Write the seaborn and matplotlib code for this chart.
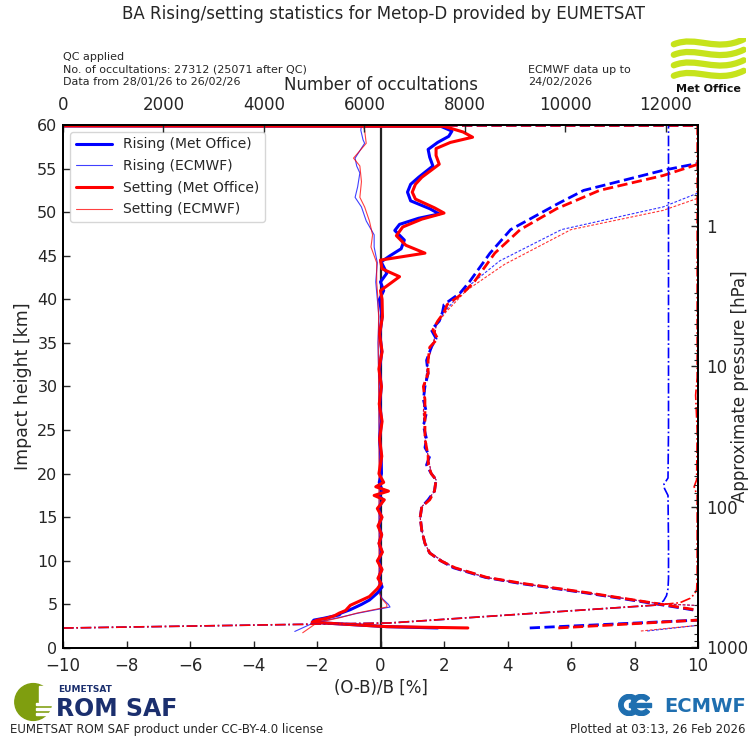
import numpy as np
import pandas as pd
import matplotlib
matplotlib.use("Agg")
import matplotlib.pyplot as plt
import seaborn as sns
from matplotlib import ticker, patches
from matplotlib.path import Path

# ---------------- data ----------------
# Mean (O-B)/B [%] - Met Office, rising
rise_mo_mean_z = [2.3, 2.45, 2.95, 3.2, 3.4, 3.8, 4.0, 4.4, 5.0, 5.5, 6.3, 7.0, 8.0, 9.0, 10.0,
                  11.0, 12.0, 13.0, 14.0, 15.0, 16.0, 17.0, 17.5, 18.0, 19.0, 20.0, 22.0, 24.0,
                  26.0, 28.0, 30.0, 32.0, 34.0, 36.0, 38.0, 40.0, 41.0, 42.0, 43.0, 44.3, 45.0,
                  45.8, 46.8, 47.9, 48.6, 49.3, 49.8, 50.4, 51.3, 52.3, 53.2, 54.0, 55.3, 56.3,
                  57.2, 58.0, 58.7, 59.3, 59.85, 60.0]
rise_mo_mean = [1.8, 0.2, -2.15, -2.1, -1.8, -1.3, -1.25, -0.95, -0.6, -0.35, -0.1, 0.05, -0.05,
                0.03, -0.06, 0.04, -0.04, 0.03, -0.05, 0.03, -0.06, 0.08, -0.05, 0.06, -0.04,
                0.03, 0.02, -0.03, 0.03, -0.02, 0.02, -0.03, 0.04, -0.02, 0.05, -0.03, 0.1, 0.0,
                0.2, 0.02, 0.3, 0.65, 0.75, 0.45, 0.6, 1.2, 1.85, 1.55, 0.95, 0.85, 0.95, 1.2,
                1.65, 1.55, 1.5, 1.8, 2.15, 2.25, 1.9, -40.0]
# Mean (O-B)/B [%] - Met Office, setting
set_mo_mean_z = [2.3, 2.45, 2.95, 3.2, 3.4, 3.7, 4.0, 4.3, 4.9, 5.9, 6.8, 7.4, 8.0, 9.0, 10.0,
                 11.0, 12.0, 13.0, 14.0, 15.0, 16.0, 17.0, 17.5, 18.0, 18.5, 19.0, 20.0, 22.0,
                 24.0, 26.0, 28.0, 30.0, 32.0, 34.0, 36.0, 38.0, 40.0, 41.0, 42.6, 43.5, 44.5,
                 45.3, 46.2, 47.3, 48.3, 49.2, 49.9, 50.5, 51.5, 52.3, 53.2, 54.0, 55.5, 56.5,
                 57.3, 58.0, 58.6, 59.2, 59.85, 60.0]
set_mo_mean = [2.75, 0.2, -2.15, -2.0, -1.7, -1.45, -1.3, -1.1, -0.95, -0.35, -0.1, 0.02, -0.08,
               0.05, -0.1, 0.06, -0.05, 0.04, -0.08, 0.05, -0.1, 0.12, -0.2, 0.25, -0.15, 0.1,
               -0.05, 0.04, -0.03, 0.05, -0.04, 0.03, -0.05, 0.05, -0.03, 0.06, 0.05, 0.0, 0.6,
               0.05, 0.0, 1.4, 0.8, 0.5, 0.7, 1.3, 2.0, 1.7, 1.1, 1.0, 1.1, 1.3, 1.85, 1.75,
               1.75, 2.2, 2.9, 2.6, 2.0, -40.0]
# Mean (O-B)/B [%] - ECMWF
rise_ec_mean_z = [1.9, 2.9, 3.5, 4.0, 4.7, 5.0, 5.7, 6.5, 8.0, 10.0, 15.0, 20.0, 25.0, 30.0,
                  35.0, 38.0, 40.0, 42.0, 44.2, 46.0, 47.4, 49.0, 50.6, 51.7, 52.9, 54.5, 55.3,
                  56.2, 57.9, 58.3, 59.4, 60.0]
rise_ec_mean = [-2.7, -2.1, -1.3, -0.7, 0.3, 0.25, 0.05, -0.05, -0.05, -0.03, -0.05, -0.03,
                -0.05, -0.05, -0.08, -0.05, -0.1, -0.15, -0.1, -0.2, -0.2, -0.45, -0.6, -0.8,
                -0.72, -0.65, -0.75, -0.8, -0.5, -0.55, -0.62, -0.6]
set_ec_mean_z = [1.75, 2.9, 3.5, 4.0, 4.7, 5.0, 5.7, 6.5, 8.0, 10.0, 15.0, 20.0, 25.0, 30.0,
                 35.0, 38.0, 40.0, 42.0, 44.2, 46.0, 47.4, 49.0, 50.6, 51.7, 53.5, 55.3, 56.2,
                 57.9, 59.4, 60.0]
set_ec_mean = [-2.45, -2.0, -1.25, -0.75, 0.2, 0.2, 0.03, -0.06, -0.04, -0.05, -0.04, -0.05,
               -0.04, -0.06, -0.07, -0.06, -0.08, -0.12, -0.12, -0.3, -0.25, -0.35, -0.5,
               -0.65, -0.6, -0.65, -0.85, -0.45, -0.5, -0.55]

# Standard deviation (O-B)/B [%] - Met Office
rise_mo_std_z = [2.3, 3.2, 3.6, 4.0, 4.1, 5.1, 6.3, 7.4, 8.1, 9.2, 10.0, 10.9, 12.0, 13.5, 15.0,
                 16.2, 17.0, 18.0, 19.3, 20.0, 21.0, 22.0, 23.0, 24.0, 25.5, 27.0, 28.5, 30.0,
                 31.5, 33.0, 34.5, 35.5, 36.5, 37.5, 38.5, 39.4, 40.7, 42.0, 45.3, 48.0, 51.0,
                 52.5, 54.8, 55.6, 57.0, 59.9, 60.0]
rise_mo_std = [4.7, 10.0, 13.0, 12.0, 10.3, 8.6, 6.5, 4.4, 3.3, 2.3, 1.9, 1.55, 1.4, 1.3, 1.25,
               1.3, 1.5, 1.7, 1.75, 1.6, 1.45, 1.55, 1.4, 1.45, 1.35, 1.45, 1.35, 1.4, 1.5,
               1.45, 1.6, 1.75, 1.6, 1.85, 1.95, 2.0, 2.5, 2.8, 3.45, 4.1, 5.6, 6.4, 8.9, 10.0,
               14.0, 40.0, -20.0]
set_mo_std_z = [2.3, 3.2, 3.6, 4.0, 4.1, 5.1, 6.3, 7.4, 8.1, 9.2, 10.0, 10.9, 12.0, 13.5, 15.0,
                16.2, 17.0, 18.0, 19.3, 20.0, 21.0, 22.0, 23.0, 24.0, 25.5, 27.0, 28.5, 30.0,
                31.5, 33.0, 34.5, 35.5, 36.5, 37.5, 38.5, 39.4, 40.7, 42.0, 45.3, 48.0, 50.4,
                52.5, 54.2, 55.5, 57.0, 59.9, 60.0]
set_mo_std = [5.6, 10.0, 13.0, 12.0, 10.4, 8.7, 6.6, 4.5, 3.35, 2.35, 1.9, 1.55, 1.4, 1.3, 1.25,
              1.3, 1.55, 1.7, 1.75, 1.6, 1.5, 1.5, 1.45, 1.4, 1.4, 1.4, 1.4, 1.35, 1.5, 1.5,
              1.55, 1.8, 1.65, 1.8, 2.0, 2.1, 2.6, 2.95, 3.6, 4.4, 5.55, 6.9, 8.9, 10.0, 14.0,
              40.0, -20.0]
# Standard deviation (O-B)/B [%] - ECMWF
rise_ec_std_z = [1.95, 2.6, 3.5, 4.5, 5.1, 6.3, 7.4, 8.1, 9.2, 10.9, 12.0, 13.5, 15.0, 16.2,
                 17.0, 18.0, 19.3, 20.0, 22.0, 24.0, 27.0, 30.0, 33.0, 35.5, 37.0, 38.5, 41.0,
                 44.4, 48.0, 50.6, 52.2, 54.0, 60.0]
rise_ec_std = [8.4, 10.0, 14.0, 12.0, 8.7, 6.5, 4.4, 3.3, 2.3, 1.55, 1.4, 1.3, 1.25, 1.3, 1.5,
               1.7, 1.75, 1.6, 1.5, 1.4, 1.35, 1.4, 1.5, 1.7, 1.75, 2.0, 2.6, 3.75, 5.7, 8.9,
               10.0, 13.0, 30.0]
set_ec_std_z = [1.95, 2.6, 3.5, 4.5, 5.1, 6.3, 7.4, 8.1, 9.2, 10.9, 12.0, 13.5, 15.0, 16.2,
                17.0, 18.0, 19.3, 20.0, 22.0, 24.0, 27.0, 30.0, 33.0, 35.5, 37.0, 38.5, 41.0,
                44.0, 48.0, 50.2, 51.6, 54.0, 60.0]
set_ec_std = [8.2, 10.0, 14.0, 12.0, 8.8, 6.6, 4.5, 3.35, 2.35, 1.55, 1.4, 1.3, 1.25, 1.3, 1.5,
              1.7, 1.75, 1.6, 1.5, 1.4, 1.35, 1.4, 1.5, 1.7, 1.75, 2.05, 2.7, 3.9, 6.0, 8.9,
              10.0, 13.0, 30.0]

# Number of occultations (top axis)
rise_n_z = [2.29, 2.87, 4.93, 5.4, 6.0, 6.8, 8.0, 12.0, 17.5, 18.3, 18.8, 19.5, 25.0, 35.0,
            45.0, 55.0, 60.0]
rise_n = [0, 6500, 11820, 11950, 12010, 12040, 12050, 12050, 12040, 11970, 11960, 12040,
          12050, 12050, 12050, 12050, 12050]
set_n_z = [2.29, 2.87, 4.93, 5.2, 5.7, 6.2, 6.7, 8.0, 12.0, 17.5, 18.5, 19.3, 25.0, 29.0,
           31.0, 35.0, 45.0, 55.0, 60.0]
set_n = [0, 6500, 11820, 12280, 12480, 12570, 12610, 12620, 12620, 12620, 12560, 12610,
         12620, 12590, 12620, 12620, 12620, 12620, 12620]

x_ticks = [-10, -8, -6, -4, -2, 0, 2, 4, 6, 8, 10]
y_ticks = [0, 5, 10, 15, 20, 25, 30, 35, 40, 45, 50, 55, 60]
n_ticks = [0, 2000, 4000, 6000, 8000, 10000, 12000]
p_ticks = [1, 10, 100, 1000]

# ---------------- style ----------------
sns.set_style("ticks")
plt.rcParams["font.family"] = ["DejaVu Sans"]
plt.rcParams["xtick.direction"] = "in"
plt.rcParams["ytick.direction"] = "in"
plt.rcParams["axes.linewidth"] = 1.2

W, H = 751, 739
fig = plt.figure(figsize=(W / 100, H / 100), dpi=100)
fig.patch.set_facecolor("white")

L, R, T, B = 63, 698, 125, 648
ax = fig.add_axes([L / W, 1 - B / H, (R - L) / W, (B - T) / H])
ax.set_xlim(-10, 10)
ax.set_ylim(0, 60)
ax.axvline(0, color="#222222", lw=1.6, zorder=1)


def line(axis, x, y, **kw):
    sns.lineplot(x=x, y=y, sort=False, estimator=None, ax=axis, **kw)
    return axis.lines[-1]


BLUE, RED = "#0000ff", "#ff0000"
# ECMWF thin
h_rise_ec = line(ax, rise_ec_mean, rise_ec_mean_z, color=BLUE, lw=0.8, alpha=0.75)
h_set_ec = line(ax, set_ec_mean, set_ec_mean_z, color=RED, lw=0.8, alpha=0.75)
line(ax, rise_ec_std, rise_ec_std_z, color=BLUE, lw=0.8, alpha=0.8, linestyle=(0, (2.5, 1.5)))
line(ax, set_ec_std, set_ec_std_z, color=RED, lw=0.8, alpha=0.8, linestyle=(0, (2.5, 1.5)))
# Met Office thick
line(ax, rise_mo_std, rise_mo_std_z, color=BLUE, lw=2.0, linestyle="--")
line(ax, set_mo_std, set_mo_std_z, color=RED, lw=2.0, linestyle="--")
h_rise_mo = line(ax, rise_mo_mean, rise_mo_mean_z, color=BLUE, lw=2.2)
h_set_mo = line(ax, set_mo_mean, set_mo_mean_z, color=RED, lw=2.2)

ax.set_xticks(x_ticks)
ax.set_yticks(y_ticks)
ax.set_xticklabels([f"{v:g}".replace("-", "\u2212") for v in x_ticks])
ax.set_xlabel("(O-B)/B [%]", fontsize=12, labelpad=3)
ax.set_ylabel("Impact height [km]", fontsize=12.5, labelpad=4)
ax.tick_params(axis="x", labelsize=12, length=5, width=1, top=False, pad=6.5)
ax.tick_params(axis="y", labelsize=11.5, length=5, width=1, right=False, pad=4)

leg = ax.legend([h_rise_mo, h_rise_ec, h_set_mo, h_set_ec],
                ["Rising (Met Office)", "Rising (ECMWF)", "Setting (Met Office)", "Setting (ECMWF)"],
                loc="upper left", fontsize=10, handlelength=2.6, frameon=True, fancybox=True,
                borderaxespad=0.5, labelspacing=0.55)
leg.get_frame().set_edgecolor("#cccccc")
leg.set_zorder(10)

# top axis: number of occultations
ax2 = ax.twiny()
ax2.set_xlim(0, 12637)
line(ax2, rise_n, rise_n_z, color=BLUE, lw=1.2, linestyle="-.")
line(ax2, set_n, set_n_z, color=RED, lw=1.2, linestyle="-.")
ax2.set_ylim(0, 60)
ax2.set_xticks(n_ticks)
ax2.set_xlabel("Number of occultations", fontsize=12, labelpad=4)
ax2.tick_params(axis="x", labelsize=12, length=5, width=1, pad=8)
ax2.set_ylabel("")

# right axis: approximate pressure
P0, HS = 1013.25, 7.0
ax3 = ax.twinx()
ax3.set_yscale("log")
ax3.set_ylim(P0 * np.exp(-0 / HS), P0 * np.exp(-60 / HS))
ax3.yaxis.set_major_locator(ticker.FixedLocator(p_ticks))
ax3.yaxis.set_major_formatter(ticker.FormatStrFormatter("%g"))
ax3.yaxis.set_minor_locator(ticker.LogLocator(base=10, subs=np.arange(2, 10)))
ax3.yaxis.set_minor_formatter(ticker.NullFormatter())
ax3.tick_params(axis="y", which="major", labelsize=12, length=5, width=1, pad=6)
ax3.tick_params(axis="y", which="minor", length=3, width=0.8)
ax3.set_ylabel("Approximate pressure [hPa]", fontsize=12)
ax3.yaxis.set_label_coords((731 - L) / (R - L), 0.5)
for a in (ax, ax2, ax3):
    for s in a.spines.values():
        s.set_linewidth(1.2)
        s.set_color("black")

# ---------------- texts ----------------
fig.text(383 / W, 1 - 14 / H, "BA Rising/setting statistics for Metop-D provided by EUMETSAT",
         ha="center", va="center", fontsize=12)
for yy, tx in [(57, "QC applied"), (70, "No. of occultations: 27312 (25071 after QC)"),
               (82, "Data from 28/01/26 to 26/02/26")]:
    fig.text(63 / W, 1 - yy / H, tx, fontsize=8, va="center", ha="left")
fig.text(528 / W, 1 - 70 / H, "ECMWF data up to", fontsize=8, va="center")
fig.text(528 / W, 1 - 82 / H, "24/02/2026", fontsize=8, va="center")
fig.text(10 / W, 1 - 729 / H, "EUMETSAT ROM SAF product under CC-BY-4.0 license",
         fontsize=8.5, va="center", ha="left")
fig.text(746 / W, 1 - 729 / H, "Plotted at 03:13, 26 Feb 2026", fontsize=8.5, va="center",
         ha="right")

# ---------------- logos (decorative) ----------------
# Met Office
mo = fig.add_axes([670 / W, 1 - 80 / H, 76 / W, 42 / H])
mo.set_xlim(0, 1)
mo.set_ylim(0, 1)
mo.axis("off")
LIME = "#c6e31b"
for y0 in (0.1, 0.35, 0.6, 0.85):
    verts = [(0.05, y0), (0.35, y0 + 0.22), (0.6, y0 - 0.2), (0.97, y0 + 0.12)]
    codes = [Path.MOVETO, Path.CURVE4, Path.CURVE4, Path.CURVE4]
    mo.add_patch(patches.PathPatch(Path(verts, codes), fill=False, lw=4.5, edgecolor=LIME,
                                   capstyle="round"))
fig.text(708 / W, 1 - 89 / H, "Met Office", fontsize=8, fontweight="bold", ha="center",
         va="center", color="#111111")

# ROM SAF
rs = fig.add_axes([12 / W, 1 - 722 / H, 44 / W, 40 / H])
rs.set_xlim(0, 1)
rs.set_ylim(0, 1)
rs.set_aspect("equal")
rs.axis("off")
rs.add_patch(patches.Circle((0.48, 0.5), 0.46, color="#7f9e0f"))
for yb in (0.18, 0.3, 0.42):
    rs.add_patch(patches.Rectangle((0.55, yb), 0.5, 0.05, color="white"))
rs.add_patch(patches.Rectangle((0.62, 0.5), 0.5, 0.4, color="white"))
fig.text(58 / W, 1 - 689 / H, "EUMETSAT", fontsize=6.5, fontweight="bold", color="#1b2f6e",
         va="center")
fig.text(56 / W, 1 - 709 / H, "ROM SAF", fontsize=17, fontweight="bold", color="#1b2f6e",
         va="center")

# ECMWF
ec = fig.add_axes([618 / W, 1 - 716 / H, 38 / W, 22 / H])
ec.set_xlim(0, 1.7)
ec.set_ylim(0, 1)
ec.set_aspect("equal")
ec.axis("off")
ECB = "#1f6fb0"
ec.add_patch(patches.Wedge((0.5, 0.5), 0.48, 40, 320, width=0.2, color=ECB))
ec.add_patch(patches.Wedge((1.05, 0.5), 0.48, 40, 320, width=0.2, color=ECB))
ec.add_patch(patches.Rectangle((0.5, 0.43), 1.0, 0.14, color=ECB))
fig.text(746 / W, 1 - 706 / H, "ECMWF", fontsize=14, fontweight="bold", color=ECB,
         va="center", ha="right")

fig.savefig("out.png", dpi=100, facecolor="white")
